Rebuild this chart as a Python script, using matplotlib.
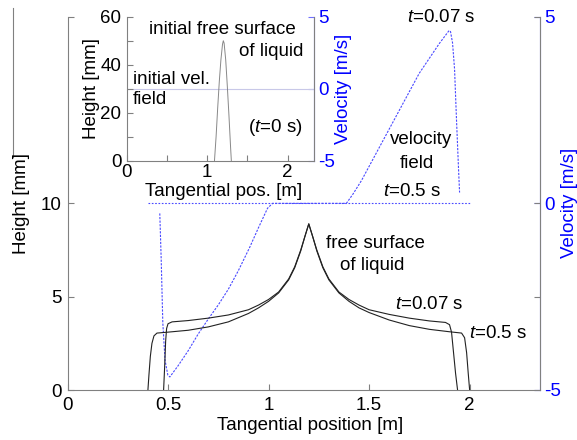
import matplotlib
matplotlib.use("Agg")
import matplotlib.pyplot as plt
from matplotlib.lines import Line2D

plt.rcParams['font.family'] = ['Liberation Sans', 'DejaVu Sans']
plt.rcParams['mathtext.fontset'] = 'custom'
plt.rcParams['mathtext.it'] = 'Liberation Sans:italic'
plt.rcParams['mathtext.rm'] = 'Liberation Sans'

# ---------------- data ----------------
# free surface t = 0.07 s
x_h007 = [0.478, 0.483, 0.488, 0.493, 0.50, 0.52, 0.60, 0.70, 0.80, 0.90, 0.95, 1.00, 1.05, 1.10, 1.13,
          1.16, 1.18, 1.20, 1.22, 1.24, 1.27, 1.30, 1.35, 1.40, 1.45, 1.50, 1.60, 1.70, 1.80, 1.88,
          1.90, 1.91, 1.92, 1.93, 1.94]
h_h007 = [0.0, 1.2, 2.6, 3.3, 3.55, 3.65, 3.72, 3.85, 4.02, 4.3, 4.55, 4.85, 5.25, 5.95, 6.6,
          7.5, 8.2, 8.9, 8.2, 7.5, 6.6, 5.95, 5.25, 4.85, 4.55, 4.3, 4.05, 3.85, 3.7, 3.62,
          3.5, 3.1, 2.0, 0.9, 0.0]
# free surface t = 0.5 s
x_h05 = [0.400, 0.405, 0.412, 0.420, 0.430, 0.445, 0.50, 0.60, 0.70, 0.80, 0.90, 0.95, 1.00, 1.05, 1.10,
         1.13, 1.16, 1.18, 1.20, 1.22, 1.24, 1.27, 1.30, 1.35, 1.40, 1.45, 1.50, 1.60, 1.70, 1.80,
         1.90, 1.96, 1.975, 1.985, 1.993, 2.000]
h_h05 = [0.0, 0.8, 1.8, 2.5, 2.9, 3.05, 3.1, 3.2, 3.38, 3.65, 4.1, 4.4, 4.75, 5.2, 5.9,
         6.55, 7.45, 8.2, 8.9, 8.2, 7.45, 6.55, 5.9, 5.2, 4.75, 4.4, 4.15, 3.75, 3.45, 3.25,
         3.12, 3.05, 2.8, 2.0, 0.9, 0.0]
# velocity field t = 0.07 s
x_v007 = [0.459, 0.466, 0.474, 0.485, 0.499, 0.509, 0.55, 0.60, 0.65, 0.70, 0.75, 0.80, 0.85, 0.906, 0.95,
          0.995, 1.02, 1.10, 1.20, 1.30, 1.387, 1.42, 1.462, 1.551, 1.650, 1.749, 1.849, 1.898, 1.905,
          1.915, 1.925, 1.935, 1.945, 1.950]
v_v007 = [-0.27, -1.5, -3.2, -4.2, -4.6, -4.65, -4.35, -3.95, -3.5, -3.1, -2.72, -2.3, -1.8, -1.18, -0.65,
          -0.13, 0.0, 0.0, 0.0, 0.0, 0.0, 0.25, 0.61, 1.50, 2.49, 3.48, 4.28, 4.63, 4.6,
          4.3, 3.6, 2.2, 0.9, 0.29]
# velocity field t = 0.5 s
x_v05 = [0.40, 2.00]
v_v05 = [0.0, 0.0]
# initial free surface (inset)
x_h0 = [1.09, 1.11, 1.13, 1.15, 1.17, 1.19, 1.20, 1.21, 1.23, 1.25, 1.27, 1.29, 1.30]
h_h0 = [0.0, 10, 22, 33, 42, 48.5, 50, 49, 42, 31, 19, 6, 0.0]
# initial velocity field (inset)
x_v0 = [0.0, 2.35]
v_v0 = [0.0, 0.0]

main_xticks = [0, 0.5, 1, 1.5, 2]
main_xticklabels = ['0', '0.5', '1', '1.5', '2']
main_hticks = [0, 5, 10, 20]
main_hticklabels = ['0', '5', '10', '']
vticks = [-5, 0, 5]
vticklabels = ['-5', '0', '5']
inset_xticks = [0, 0.5, 1, 1.5, 2]
inset_xticklabels = ['0', '', '1', '', '2']
inset_hticks = [0, 10, 20, 30, 40, 50, 60]
inset_hticklabels = ['0', '', '20', '', '40', '', '60']

# ---------------- figure ----------------
W, H = 577, 440
fig = plt.figure(figsize=(W / 100, H / 100), dpi=100)

def fpos(l, t, r, b):
    return [l / W, 1 - b / H, (r - l) / W, (b - t) / H]

def fxy(x, y):
    return (x / W, 1 - y / H)

GRAY = '#808080'
BLUE = '#0000ff'
LBLUE = '#4848ff'
SPBLUE = '#7070ff'
FS = 13.5

def style(ax, twin):
    ax.spines['top'].set_visible(False)
    ax.spines['left'].set_color(GRAY)
    ax.spines['bottom'].set_color(GRAY)
    ax.spines['right'].set_color(GRAY)
    ax.tick_params(direction='in', length=4, width=0.8, color=GRAY, labelsize=FS, pad=4)
    twin.spines['top'].set_visible(False)
    twin.spines['left'].set_visible(False)
    twin.spines['bottom'].set_visible(False)
    twin.spines['right'].set_color(SPBLUE)
    twin.tick_params(direction='in', length=4, width=0.8, color=SPBLUE, labelsize=FS,
                     labelcolor=BLUE, pad=3)

# main axes
ML, MT, MR, MB = 67.5, 16.7, 540, 390
ax = fig.add_axes(fpos(ML, MT, MR, MB))
ax2 = ax.twinx()
ax.set_zorder(2)
ax2.set_zorder(1)
ax.patch.set_visible(False)
ax.set_xlim(0, 2.35)
ax.set_ylim(0, 20)
ax2.set_ylim(-5, 5)
style(ax, ax2)
ax.set_xticks(main_xticks)
ax.set_xticklabels(main_xticklabels)
ax.set_yticks(main_hticks)
ax.set_yticklabels(main_hticklabels)
ax.tick_params(axis='y', right=True)
ax.tick_params(axis='x', pad=5)
ax2.set_yticks(vticks)
ax2.set_yticklabels(vticklabels)

ax.plot(x_h007, h_h007, color='#222222', lw=0.8)
ax.plot(x_h05, h_h05, color='#222222', lw=0.8)
ax2.plot(x_v007, v_v007, color=LBLUE, lw=0.8, ls=(0, (2, 1.2)))
ax2.plot(x_v05, v_v05, color=LBLUE, lw=0.8, ls=(0, (1.5, 1.5)))

mw, mh = MR - ML, MB - MT
ax.set_ylabel('Height [mm]', fontsize=FS)
ax.yaxis.set_label_coords((30 - ML) / mw, 0.5)
ax.set_xlabel('Tangential position [m]', fontsize=FS)
ax.xaxis.set_label_coords((310 - ML) / mw, -(417 - MB) / mh)
ax2.set_ylabel('Velocity [m/s]', fontsize=FS, color=BLUE)
ax2.yaxis.set_label_coords((561 - ML) / mw, 0.5)

# main annotations
def ftext(x, y, s, ha='left', **kw):
    fig.text(*fxy(x, y), s, ha=ha, va='center', fontsize=FS, **kw)

ftext(375, 243, 'free surface', ha='center')
ftext(372, 266, 'of liquid', ha='center')
ftext(395, 304, '$t$=0.07 s')
ftext(469, 334, '$t$=0.5 s')
ftext(407, 17, '$t$=0.07 s')
ftext(421, 140, 'velocity', ha='center')
ftext(417, 163, 'field', ha='center')
ftext(383, 191, '$t$=0.5 s')

# inset
IL, IT, IR, IB = 127, 16.7, 314, 160.7
ai = fig.add_axes(fpos(IL, IT, IR, IB))
ai2 = ai.twinx()
ai.set_zorder(4)
ai2.set_zorder(3)
ai.patch.set_visible(False)
ai2.patch.set_facecolor('white')
ai.set_xlim(0, 2.33)
ai.set_ylim(0, 60)
ai2.set_ylim(-5, 5)
style(ai, ai2)
ai.set_xticks(inset_xticks)
ai.set_xticklabels(inset_xticklabels)
ai.set_yticks(inset_hticks)
ai.set_yticklabels(inset_hticklabels)
ai.tick_params(axis='x', pad=2.5)
ai2.set_yticks(vticks)
ai2.set_yticklabels(vticklabels)
ai.plot(x_h0, h_h0, color='#888888', lw=0.7)
ai2.plot(x_v0, v_v0, color='#c8c8e8', lw=0.8)

iw, ih = IR - IL, IB - IT
ai.set_ylabel('Height [mm]', fontsize=FS)
ai.yaxis.set_label_coords((100 - IL) / iw, 0.5)
ai.set_xlabel('Tangential pos. [m]', fontsize=FS)
ai.xaxis.set_label_coords((224 - IL) / iw, -(183 - IB) / ih)
ai2.set_ylabel('Velocity [m/s]', fontsize=FS, color=BLUE)
ai2.yaxis.set_label_coords((335 - IL) / iw, 0.5)

ftext(222, 29, 'initial free surface', ha='center')
ftext(303, 51, 'of liquid', ha='right')
ftext(133, 79, 'initial vel.')
ftext(133, 100, 'field')
ftext(303, 127, '($t$=0 s)', ha='right')

# stray frame line at the far left of the reference
fig.add_artist(Line2D([13 / W, 13 / W], [1 - 8 / H, 1 - 157 / H], color=GRAY, lw=0.8))

fig.savefig('out.png', dpi=100)
